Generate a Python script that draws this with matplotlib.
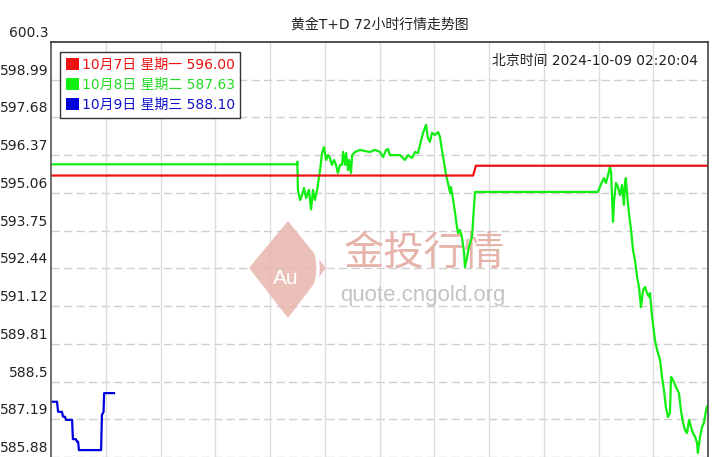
import matplotlib
matplotlib.use("Agg")
import matplotlib.pyplot as plt
import matplotlib.transforms as mtransforms
from matplotlib.patches import Patch, Polygon, Arc

# x = hours into the trading day (axis spans 24h, grid every 2h), y = price
red_x = [0, 15.42, 15.52, 24]
red_y = [595.66, 595.66, 596.00, 596.00]

green_x = [0, 8.99, 9.00, 9.02, 9.10, 9.17, 9.24, 9.32, 9.42, 9.50, 9.57, 9.64, 9.72,
           9.83, 9.90, 9.97, 10.05, 10.12, 10.19, 10.26, 10.34, 10.41, 10.48, 10.56,
           10.63, 10.67, 10.74, 10.78, 10.85, 10.89, 10.96, 11.00, 11.11, 11.29, 11.47,
           11.65, 11.84, 12.02, 12.13, 12.24, 12.31, 12.38, 12.57, 12.75, 12.93, 13.04,
           13.19, 13.30, 13.41, 13.48, 13.59, 13.70, 13.77, 13.84, 13.92, 14.03, 14.14,
           14.21, 14.28, 14.36, 14.43, 14.50, 14.58, 14.61, 14.69, 14.76, 14.83, 14.87,
           14.94, 15.01, 15.09, 15.12, 15.20, 15.27, 15.34, 15.38, 15.45, 15.49, 19.98,
           20.05, 20.13, 20.20, 20.27, 20.35, 20.42, 20.46, 20.49, 20.53, 20.57, 20.64,
           20.71, 20.79, 20.86, 20.93, 20.97, 21.00, 21.04, 21.11, 21.19, 21.26, 21.33,
           21.41, 21.48, 21.55, 21.63, 21.70, 21.77, 21.85, 21.88, 21.96, 22.06, 22.14,
           22.25, 22.32, 22.39, 22.46, 22.54, 22.61, 22.65, 22.72, 22.83, 22.94, 23.01,
           23.09, 23.16, 23.23, 23.31, 23.38, 23.45, 23.53, 23.60, 23.63, 23.71, 23.78,
           23.85, 23.93, 23.96]
green_y = [596.05, 596.05, 596.14, 595.16, 594.81, 594.98, 595.23, 594.88, 595.16, 594.48,
           595.16, 594.81, 595.16, 595.85, 596.44, 596.65, 596.20, 596.37, 596.27, 596.03,
           596.20, 596.03, 595.75, 596.03, 596.03, 596.48, 596.03, 596.44, 595.85, 596.20,
           595.75, 596.37, 596.48, 596.55, 596.51, 596.48, 596.55, 596.48, 596.30, 596.55,
           596.58, 596.37, 596.37, 596.37, 596.20, 596.37, 596.27, 596.48, 596.44, 596.72,
           597.14, 597.42, 596.96, 596.83, 597.14, 597.07, 597.17, 597.00, 596.55, 596.10,
           595.68, 595.40, 595.05, 595.26, 594.81, 594.36, 593.87, 593.66, 593.77, 593.52,
           592.97, 592.48, 592.83, 593.18, 593.42, 593.52, 594.57, 595.09, 595.09, 595.26,
           595.44, 595.57, 595.40, 595.68, 595.96, 595.78, 595.05, 594.05, 594.81, 595.40,
           595.26, 594.98, 595.33, 594.64, 595.44, 595.57, 595.05, 594.36, 593.77, 593.07,
           592.73, 592.13, 591.79, 591.09, 591.68, 591.79, 591.58, 591.44, 591.58, 590.74,
           589.95, 589.60, 589.25, 588.66, 588.21, 587.62, 587.27, 587.41, 588.66, 588.56,
           588.31, 588.10, 587.51, 587.06, 586.82, 586.71, 587.17, 586.92, 586.71, 586.58,
           586.37, 586.02, 586.58, 586.92, 587.06, 587.51, 587.63]

blue_x = [0, 0.22, 0.26, 0.40, 0.44, 0.51, 0.55, 0.77, 0.80, 0.91, 0.95, 0.99, 1.02,
          1.83, 1.86, 1.92, 1.94, 2.30]
blue_y = [587.80, 587.80, 587.45, 587.45, 587.28, 587.28, 587.17, 587.17, 586.50, 586.50,
          586.41, 586.41, 586.12, 586.12, 587.34, 587.45, 588.10, 588.10]

y_ticks = [600.3, 598.99, 597.68, 596.37, 595.06, 593.75, 592.44, 591.12, 589.81,
           588.5, 587.19, 585.88]
y_labels = ["600.3", "598.99", "597.68", "596.37", "595.06", "593.75", "592.44",
            "591.12", "589.81", "588.5", "587.19", "585.88"]
x_grid = [2, 4, 6, 8, 10, 12, 14, 16, 18, 20, 22]

legend_labels = ["10月7日 星期一 596.00", "10月8日 星期二 587.63", "10月9日 星期三 588.10"]
colors = ["#ee1111", "#11ee11", "#0000dd"]
text_colors = ["#ee1111", "#22dd22", "#1111cc"]

title = "黄金T+D 72小时行情走势图"
stamp = "北京时间 2024-10-09 02:20:04"

plt.rcParams['font.family'] = ['DejaVu Sans', 'Noto Sans CJK SC']

W, H = 720, 457
fig = plt.figure(figsize=(W / 100, H / 100), dpi=100)
ax = fig.add_axes([51 / W, 0, 657 / W, 415 / H])

ax.set_xlim(0, 24)
ax.set_ylim(585.88, 600.3)
ax.set_xticks([])
ax.set_yticks(y_ticks)
ax.set_yticklabels(y_labels, fontsize=10, color="#222222")
ax.tick_params(axis="y", length=0, pad=2)
offset = mtransforms.ScaledTranslation(0, 0.105, fig.dpi_scale_trans)
for lab in ax.get_yticklabels():
    lab.set_transform(lab.get_transform() + offset)

for v in y_ticks[1:]:
    ax.axhline(v, color="#cfcfcf", lw=1, ls=(0, (6, 3)), zorder=0.5)
for v in x_grid:
    ax.axvline(v, color="#dddddd", lw=1, zorder=0.5)

ax.spines["bottom"].set_visible(False)
ax.spines["left"].set_color("#555555")
ax.spines["top"].set_color("#333333")
ax.spines["right"].set_color("#444444")
for s in ["left", "top", "right"]:
    ax.spines[s].set_linewidth(1.2)

# watermark
def fp(px, py):
    return (px / W, 1 - py / H)

diamond = Polygon([fp(249, 268), fp(288, 221), fp(326, 268), fp(288, 318)],
                  closed=True, transform=fig.transFigure, facecolor="#e8b5ad",
                  edgecolor="none", alpha=0.85, zorder=1)
ax.add_patch(diamond)
swoosh = Arc(fp(286, 268), 64 / W, 84 / H, theta1=-70, theta2=75,
             transform=fig.transFigure, color="white", lw=2.5, zorder=1.1)
ax.add_patch(swoosh)
ax.text(*fp(286, 279), "Au", transform=fig.transFigure, color="white", fontsize=15,
        family=["Liberation Sans"], ha="center", va="center", zorder=1.2)
ax.text(*fp(424, 253), "金投行情", transform=fig.transFigure, color="#e6b3aa",
        fontsize=29, family=["Noto Sans CJK SC"], ha="center", va="center", zorder=1)
ax.text(*fp(423, 295), "quote.cngold.org", transform=fig.transFigure, color="#c4c4c4",
        fontsize=16, family=["Liberation Sans"], ha="center", va="center", zorder=1)

ax.plot(green_x, green_y, color=colors[1], lw=1.6, zorder=2)
ax.plot(red_x, red_y, color=colors[0], lw=1.6, zorder=2.1)
ax.plot(blue_x, blue_y, color=colors[2], lw=1.6, zorder=2.2)

handles = [Patch(facecolor=c, edgecolor="none") for c in colors]
leg = ax.legend(handles, legend_labels, loc="upper left", bbox_to_anchor=(0.0137, 0.976),
                borderaxespad=0, fontsize=10, handlelength=1.0, handleheight=1.0,
                handletextpad=0.15, labelspacing=0.45, borderpad=0.4,
                fancybox=False, framealpha=1, edgecolor="#333333")
leg.get_frame().set_linewidth(1)
for t, c in zip(leg.get_texts(), text_colors):
    t.set_color(c)

fig.text(379.5 / W, 1 - 25 / H, title, ha="center", va="center", fontsize=10, color="#222222")
fig.text(698 / W, 1 - 61 / H, stamp, ha="right", va="center", fontsize=10, color="#222222")

fig.savefig("out.png", dpi=100)
